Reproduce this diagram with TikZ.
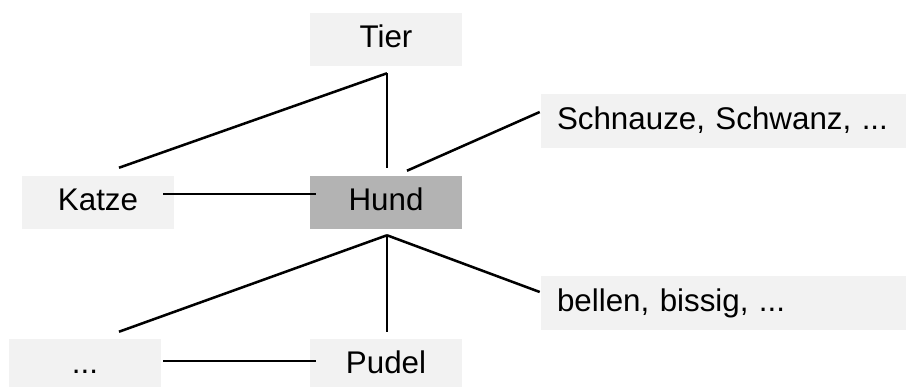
\documentclass[tikz,border=0pt]{standalone}
\usepackage{fontspec}
\setmainfont{Liberation Sans}
\usepackage{tikz}
\usetikzlibrary{calc}
\usetikzlibrary{positioning}
\definecolor{boxgray}{HTML}{F2F2F2}
\definecolor{hundgray}{HTML}{B3B3B3}
\tikzset{term/.style = {rectangle, fill=boxgray, inner sep=0pt, minimum width=114pt, minimum height=39.75pt, text height=17pt, text depth=5pt, font=\fontsize{23.5pt}{28pt}\selectfont}}
\tikzset{attr/.style = {term, minimum width=0pt, text width=249.75pt, inner xsep=12pt, align=left, minimum height=40.5pt}}
\tikzset{link/.style = {-, draw=black, line width=1.9pt}}

\begin{document}
\begin{tikzpicture}[x=0.75pt, y=-0.75pt]
\useasboundingbox (0,0) rectangle (906,386);
\node [term] (tier) at (386, 39.5) {Tier};
\node [term, fill=hundgray] (hund) at (386, 202.5) {Hund};
\node [term] (katze) at (98, 202.5) {Katze};
\node [attr] (schnauze) at (723.5, 121) {Schnauze, Schwanz, ...};
\node [attr] (bellen) at (723.5, 303) {bellen, bissig, ...};
\node [term] (dots) at (85, 365.5) {...};
\node [term] (pudel) at (386, 365.5) {Pudel};
\coordinate (tierfoot) at ($(tier.south)+(1,7)$);
\coordinate (hundfoot) at ($(hund.south)+(1,6)$);
\draw [link] (tierfoot) -- ($(katze.north)+(21,-8)$);
\draw [link] (tierfoot) -- ($(hund.north)+(1,-8)$);
\draw [link] ($(hund.north)+(21,-5)$) -- ($(schnauze.west)+(-1,-9)$);
\draw [link] ($(katze.east)+(-11,-8.5)$) -- ($(hund.west)+(6,-8.5)$);
\draw [link] (hundfoot) -- ($(dots.north)+(34,-7)$);
\draw [link] (hundfoot) -- ($(pudel.north)+(1,-7)$);
\draw [link] (hundfoot) -- ($(bellen.west)+(-1,-11)$);
\draw [link] ($(dots.east)+(2,-4.5)$) -- ($(pudel.west)+(6,-4.5)$);
\end{tikzpicture}
\end{document}
